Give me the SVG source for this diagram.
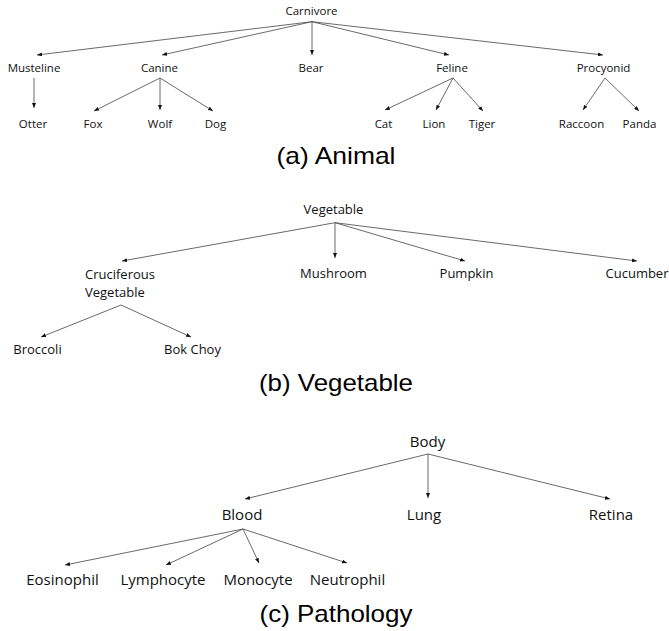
<svg xmlns="http://www.w3.org/2000/svg" width="669" height="631" viewBox="0 0 669 631">
<style>
text{font-family:"Open Sans","Liberation Sans",sans-serif;fill:#111;text-anchor:middle}
.a{font-size:11.5px}
.b{font-size:13px}
.c{font-size:15px}
.cap{font-family:"Liberation Sans",Arial,Helvetica,sans-serif;font-size:24px;fill:#000}
#connectors line{stroke:#444;stroke-width:0.8;marker-end:url(#ah)}
</style>
<defs>
<marker id="ah" markerUnits="userSpaceOnUse" markerWidth="5" markerHeight="4" refX="5" refY="2" orient="auto">
<path d="M0,0 L5,2 L0,4 z" fill="#111"/>
</marker>
</defs>
<rect width="669" height="631" fill="#fff"/>
<g id="connectors">
<!-- panel a -->
<line x1="312" y1="21.7" x2="37" y2="55"/>
<line x1="312" y1="21.7" x2="162" y2="55"/>
<line x1="312" y1="21.7" x2="312" y2="55"/>
<line x1="312" y1="21.7" x2="449" y2="55"/>
<line x1="312" y1="21.7" x2="603" y2="55"/>
<line x1="34" y1="78" x2="34" y2="108"/>
<line x1="160" y1="78" x2="94" y2="111"/>
<line x1="160" y1="78" x2="160" y2="110"/>
<line x1="160" y1="78" x2="213" y2="111"/>
<line x1="453" y1="78" x2="385" y2="110"/>
<line x1="453" y1="78" x2="436" y2="110"/>
<line x1="453" y1="78" x2="483" y2="111"/>
<line x1="605" y1="78" x2="583" y2="110"/>
<line x1="605" y1="78" x2="639" y2="111"/>
<!-- panel b -->
<line x1="335" y1="222.7" x2="122" y2="261"/>
<line x1="335" y1="222.7" x2="335" y2="258"/>
<line x1="335" y1="222.7" x2="465" y2="261"/>
<line x1="335" y1="222.7" x2="637" y2="261"/>
<line x1="121" y1="305" x2="41" y2="337"/>
<line x1="121" y1="305" x2="191" y2="337"/>
<!-- panel c -->
<line x1="428" y1="454" x2="245" y2="499"/>
<line x1="428" y1="454" x2="428" y2="498"/>
<line x1="428" y1="454" x2="610" y2="499"/>
<line x1="243" y1="529" x2="65" y2="565"/>
<line x1="243" y1="529" x2="166" y2="565"/>
<line x1="243" y1="529" x2="259" y2="563"/>
<line x1="243" y1="529" x2="347" y2="563"/>
</g>
<g id="carnivore"><text class="a" x="311.5" y="15">Carnivore</text></g>
<g id="musteline"><text class="a" x="34" y="72">Musteline</text></g>
<g id="canine"><text class="a" x="159.5" y="72">Canine</text></g>
<g id="bear"><text class="a" x="311" y="72">Bear</text></g>
<g id="feline"><text class="a" x="452" y="72">Feline</text></g>
<g id="procyonid"><text class="a" x="603.5" y="72">Procyonid</text></g>
<g id="otter"><text class="a" x="33" y="128">Otter</text></g>
<g id="fox"><text class="a" x="93" y="128">Fox</text></g>
<g id="wolf"><text class="a" x="160" y="128">Wolf</text></g>
<g id="dog"><text class="a" x="215.5" y="128">Dog</text></g>
<g id="cat"><text class="a" x="383.5" y="128">Cat</text></g>
<g id="lion"><text class="a" x="434" y="128">Lion</text></g>
<g id="tiger"><text class="a" x="482" y="128">Tiger</text></g>
<g id="raccoon"><text class="a" x="581.5" y="128">Raccoon</text></g>
<g id="panda"><text class="a" x="639.5" y="128">Panda</text></g>
<g id="caption-a"><text class="cap" x="336" y="164" textLength="119" lengthAdjust="spacingAndGlyphs">(a) Animal</text></g>

<g id="vegetable"><text class="b" x="333.5" y="214">Vegetable</text></g>
<g id="cruciferous"><text class="b" x="85" y="279" style="text-anchor:start">Cruciferous</text><text class="b" x="85" y="297" style="text-anchor:start">Vegetable</text></g>
<g id="mushroom"><text class="b" x="333.5" y="278">Mushroom</text></g>
<g id="pumpkin"><text class="b" x="466.5" y="278">Pumpkin</text></g>
<g id="cucumber"><text class="b" x="637" y="278">Cucumber</text></g>
<g id="broccoli"><text class="b" x="37.5" y="354">Broccoli</text></g>
<g id="bokchoy"><text class="b" x="192.5" y="354">Bok Choy</text></g>
<g id="caption-b"><text class="cap" x="336" y="391" textLength="154" lengthAdjust="spacingAndGlyphs">(b) Vegetable</text></g>

<g id="body"><text class="c" x="427.5" y="447">Body</text></g>
<g id="blood"><text class="c" x="242" y="520">Blood</text></g>
<g id="lung"><text class="c" x="424" y="520">Lung</text></g>
<g id="retina"><text class="c" x="611" y="520">Retina</text></g>
<g id="eosinophil"><text class="c" x="62.5" y="585">Eosinophil</text></g>
<g id="lymphocyte"><text class="c" x="163" y="585">Lymphocyte</text></g>
<g id="monocyte"><text class="c" x="258" y="585">Monocyte</text></g>
<g id="neutrophil"><text class="c" x="347.5" y="585">Neutrophil</text></g>
<g id="caption-c"><text class="cap" x="336" y="622" textLength="153" lengthAdjust="spacingAndGlyphs">(c) Pathology</text></g>
</svg>
